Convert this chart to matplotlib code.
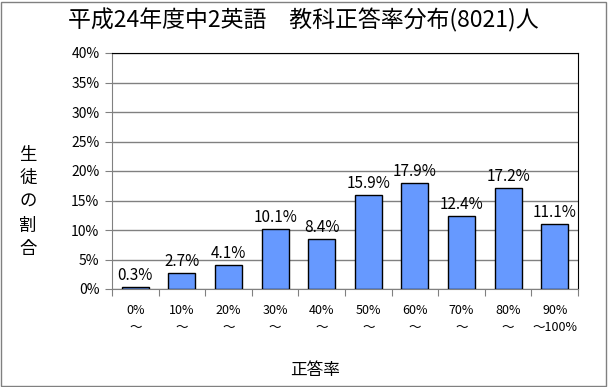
import matplotlib
matplotlib.use("Agg")
import matplotlib.pyplot as plt
from matplotlib.patches import Rectangle
from matplotlib.ticker import MultipleLocator, FuncFormatter

plt.rcParams['font.family'] = ['Noto Sans CJK JP', 'DejaVu Sans']

categories = ['0%\n～', '10%\n～', '20%\n～', '30%\n～', '40%\n～',
              '50%\n～', '60%\n～', '70%\n～', '80%\n～', '90%\n～100%']
rates = [0.3, 2.7, 4.1, 10.1, 8.4, 15.9, 17.9, 12.4, 17.2, 11.1]
labels = ['0.3%', '2.7%', '4.1%', '10.1%', '8.4%',
          '15.9%', '17.9%', '12.4%', '17.2%', '11.1%']

W, H = 608, 387
fig = plt.figure(figsize=(W / 100, H / 100), dpi=100)
ax = fig.add_axes([112 / W, 1 - 289 / H, (578 - 112) / W, (289 - 53) / H])

x = list(range(len(rates)))
ax.bar(x, rates, width=0.58, color='#6699FF', edgecolor='black', linewidth=1, zorder=3)
for xi, v, lab in zip(x, rates, labels):
    ax.text(xi, v + 0.5, lab, ha='center', va='bottom', fontsize=11, color='black')

ax.set_xlim(-0.5, len(rates) - 0.5)
ax.set_ylim(0, 40)
ax.yaxis.set_major_locator(MultipleLocator(5))
ax.yaxis.set_major_formatter(FuncFormatter(lambda v, p: f'{v:.0f}%'))
ax.grid(axis='y', color='#808080', linewidth=1, zorder=0)

ax.set_xticks([i - 0.5 for i in range(len(rates) + 1)], minor=False)
ax.set_xticklabels([])
ax.set_xticks(x, minor=True)
ax.set_xticklabels(categories, minor=True, fontsize=9, linespacing=1.4)
ax.tick_params(axis='x', which='minor', length=0, pad=11)
ax.tick_params(axis='x', which='major', length=5, color='#808080')
ax.tick_params(axis='y', length=5, color='#808080', labelsize=10, pad=4)

for side in ['top', 'right']:
    ax.spines[side].set_color('black')
for side in ['left', 'bottom']:
    ax.spines[side].set_color('#808080')

fig.text(303 / W, 1 - 20 / H, '平成24年度中2英語\u3000教科正答率分布(8021)人',
         ha='center', va='center', fontsize=16.5)
fig.text(28 / W, 1 - 202 / H, '生\n徒\nの\n割\n合', ha='center', va='center',
         fontsize=12.5, linespacing=1.4)
fig.text(315 / W, 1 - 370 / H, '正答率', ha='center', va='center', fontsize=12)

fig.patches.append(Rectangle((1 / W, 1 / H), (W - 3) / W, (H - 3) / H,
                             transform=fig.transFigure, fill=False,
                             edgecolor='#808080', linewidth=1))

fig.savefig('out.png', dpi=100)
